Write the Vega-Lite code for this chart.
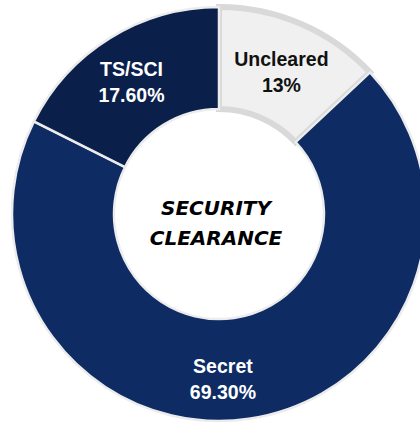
{
  "$schema": "https://vega.github.io/schema/vega-lite/v6.json",
  "width": 402,
  "height": 418,
  "padding": {"left": 18, "top": 5, "right": 0, "bottom": 0},
  "autosize": {"type": "none"},
  "background": "white",
  "view": {"stroke": null},
  "data": {"values": [
    {"category": "Uncleared", "value": 13, "seq": 1, "label": "Uncleared\n13%"},
    {"category": "Secret", "value": 69.3, "seq": 2, "label": "Secret\n69.30%"},
    {"category": "TS/SCI", "value": 17.6, "seq": 3, "label": "TS/SCI\n17.60%"}
  ]},
  "layer": [
    {
      "mark": {"type": "arc", "outerRadius": 207, "innerRadius": 105},
      "encoding": {
        "theta": {"field": "value", "type": "quantitative", "stack": true},
        "order": {"field": "seq", "type": "quantitative"},
        "color": {"field": "category", "type": "nominal", "legend": null,
          "scale": {"domain": ["Uncleared", "Secret", "TS/SCI"], "range": ["#f0f0f0", "#0e2b63", "#0b1f4b"]}},
        "stroke": {"field": "category", "type": "nominal", "legend": null,
          "scale": {"domain": ["Uncleared", "Secret", "TS/SCI"], "range": ["#d9d9d9", "#ececec", "#ececec"]}},
        "strokeWidth": {"field": "category", "type": "nominal", "legend": null,
          "scale": {"type": "ordinal", "domain": ["Uncleared", "Secret", "TS/SCI"], "range": [6, 2.5, 2.5]}}
      }
    },
    {
      "mark": {"type": "text", "radius": 157, "dy": -10, "font": "Liberation Sans", "fontWeight": "bold", "fontSize": 19.5, "lineBreak": "\n", "lineHeight": 26, "align": "center", "baseline": "middle", "color": "#111111"},
      "encoding": {
        "theta": {"field": "value", "type": "quantitative", "stack": true},
        "order": {"field": "seq", "type": "quantitative"},
        "text": {"condition": {"test": "datum.category === 'Uncleared'", "field": "label"}, "value": ""}
      }
    },
    {
      "mark": {"type": "text", "radius": 157, "dx": -5, "dy": -10, "font": "Liberation Sans", "fontWeight": "bold", "fontSize": 19.5, "lineBreak": "\n", "lineHeight": 26, "align": "center", "baseline": "middle", "color": "white"},
      "encoding": {
        "theta": {"field": "value", "type": "quantitative", "stack": true},
        "order": {"field": "seq", "type": "quantitative"},
        "text": {"condition": {"test": "datum.category === 'TS/SCI'", "field": "label"}, "value": ""}
      }
    },
    {
      "mark": {"type": "text", "radius": 166, "dx": -20, "dy": -11, "font": "Liberation Sans", "fontWeight": "bold", "fontSize": 19.5, "lineBreak": "\n", "lineHeight": 26, "align": "center", "baseline": "middle", "color": "white"},
      "encoding": {
        "theta": {"field": "value", "type": "quantitative", "stack": true},
        "order": {"field": "seq", "type": "quantitative"},
        "text": {"condition": {"test": "datum.category === 'Secret'", "field": "label"}, "value": ""}
      }
    },
    {
      "data": {"values": [{"title": "SECURITY\nCLEARANCE"}]},
      "mark": {"type": "text", "font": "DejaVu Sans", "fontStyle": "italic", "fontWeight": "bold", "fontSize": 20, "lineBreak": "\n", "lineHeight": 30, "align": "center", "baseline": "middle", "color": "black", "dx": -3, "dy": -5},
      "encoding": {
        "text": {"field": "title"}
      }
    }
  ]
}
